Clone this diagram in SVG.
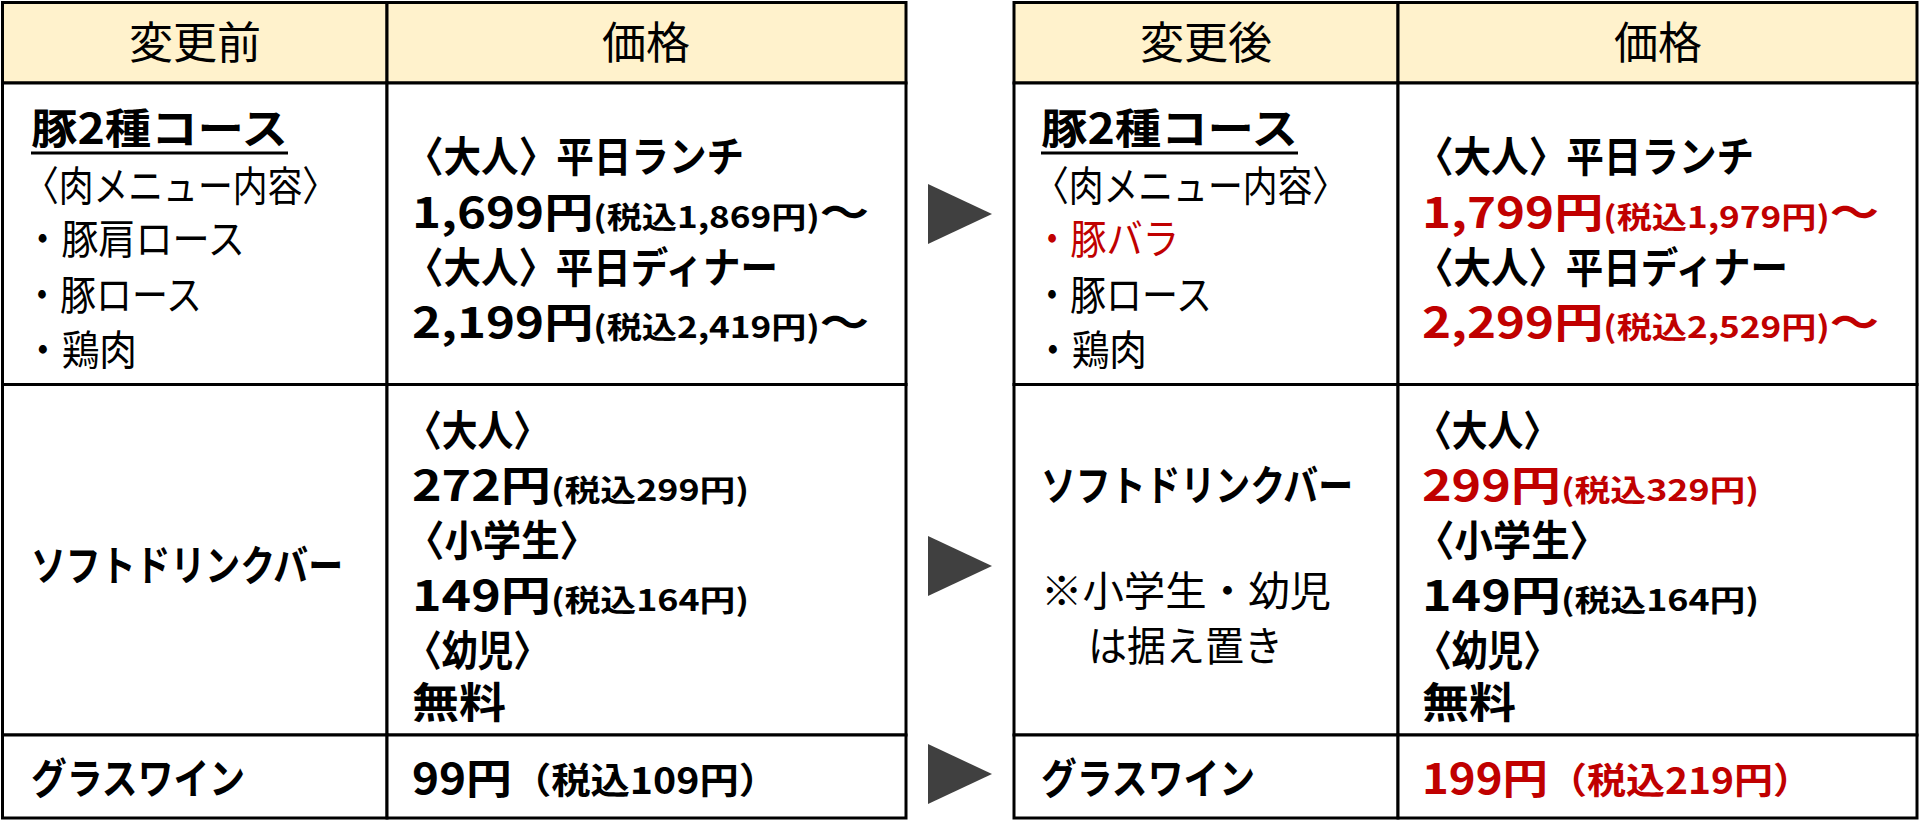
<svg xmlns="http://www.w3.org/2000/svg" width="1920" height="831" viewBox="0 0 1920 831">
<style>
text{font-family:"Noto Sans CJK JP","Liberation Sans",sans-serif;fill:#000}
.h{font-size:44px;text-anchor:middle}
.b{font-size:42px;font-weight:bold}
.n{font-size:41px}
.s{font-size:30px}
.r{fill:#C00000}
.cell{fill:#fff;stroke:#000;stroke-width:3}
.head{fill:#FFF2CC;stroke:#000;stroke-width:3}
.arr{fill:#404040}
</style>
<rect width="1920" height="831" fill="#fff"/>
<g id="left-table">
<rect class="head" x="2.5" y="2.5" width="384.5" height="80.5"/>
<rect class="head" x="387" y="2.5" width="519" height="80.5"/>
<rect class="cell" x="2.5" y="83" width="384.5" height="301.5"/>
<rect class="cell" x="387" y="83" width="519" height="301.5"/>
<rect class="cell" x="2.5" y="384.5" width="384.5" height="350.5"/>
<rect class="cell" x="387" y="384.5" width="519" height="350.5"/>
<rect class="cell" x="2.5" y="735" width="384.5" height="83"/>
<rect class="cell" x="387" y="735" width="519" height="83"/>
<text class="h" x="195" y="59">変更前</text>
<text class="h" x="646" y="59">価格</text>
<text class="b" x="31" y="144" font-size="46" textLength="257" lengthAdjust="spacingAndGlyphs">豚2種コース</text>
<line x1="31" y1="153" x2="288" y2="153" stroke="#000" stroke-width="3"/>
<text class="n" x="24" y="201" textLength="313" lengthAdjust="spacingAndGlyphs">〈肉メニュー内容〉</text>
<text class="n" x="24" y="254" textLength="221" lengthAdjust="spacingAndGlyphs">・豚肩ロース</text>
<text class="n" x="24" y="310" textLength="178" lengthAdjust="spacingAndGlyphs">・豚ロース</text>
<text class="n" x="24" y="365" textLength="113" lengthAdjust="spacingAndGlyphs">・鶏肉</text>
<text class="b" x="406" y="172" textLength="338" lengthAdjust="spacingAndGlyphs">〈大人〉平日ランチ</text>
<text class="b" x="412" y="228" textLength="457" lengthAdjust="spacingAndGlyphs">1,699円<tspan class="s">(税込1,869円)</tspan>～</text>
<text class="b" x="406" y="283" textLength="372" lengthAdjust="spacingAndGlyphs">〈大人〉平日ディナー</text>
<text class="b" x="412" y="338" textLength="457" lengthAdjust="spacingAndGlyphs">2,199円<tspan class="s">(税込2,419円)</tspan>～</text>
<text class="b" x="31" y="581" textLength="312" lengthAdjust="spacingAndGlyphs">ソフトドリンクバー</text>
<text class="b" x="406" y="446" textLength="143" lengthAdjust="spacingAndGlyphs">〈大人〉</text>
<text class="b" x="412" y="501" textLength="337" lengthAdjust="spacingAndGlyphs">272円<tspan class="s">(税込299円)</tspan></text>
<text class="b" x="406" y="556" textLength="192" lengthAdjust="spacingAndGlyphs">〈小学生〉</text>
<text class="b" x="412" y="611" textLength="337" lengthAdjust="spacingAndGlyphs">149円<tspan class="s">(税込164円)</tspan></text>
<text class="b" x="406" y="666" textLength="143" lengthAdjust="spacingAndGlyphs">〈幼児〉</text>
<text class="b" x="412" y="718" textLength="94" lengthAdjust="spacingAndGlyphs">無料</text>
<text class="b" x="31" y="794" textLength="214" lengthAdjust="spacingAndGlyphs">グラスワイン</text>
<text class="b" x="412" y="794" textLength="366" lengthAdjust="spacingAndGlyphs">99円<tspan font-size="36">（税込109円）</tspan></text>
</g>
<g id="right-table">
<rect class="head" x="1014" y="2.5" width="384" height="80.5"/>
<rect class="head" x="1398" y="2.5" width="519" height="80.5"/>
<rect class="cell" x="1014" y="83" width="384" height="301.5"/>
<rect class="cell" x="1398" y="83" width="519" height="301.5"/>
<rect class="cell" x="1014" y="384.5" width="384" height="350.5"/>
<rect class="cell" x="1398" y="384.5" width="519" height="350.5"/>
<rect class="cell" x="1014" y="735" width="384" height="83"/>
<rect class="cell" x="1398" y="735" width="519" height="83"/>
<text class="h" x="1206" y="59">変更後</text>
<text class="h" x="1658" y="59">価格</text>
<text class="b" x="1041" y="144" font-size="46" textLength="257" lengthAdjust="spacingAndGlyphs">豚2種コース</text>
<line x1="1041" y1="153" x2="1298" y2="153" stroke="#000" stroke-width="3"/>
<text class="n" x="1034" y="201" textLength="313" lengthAdjust="spacingAndGlyphs">〈肉メニュー内容〉</text>
<text class="n r" x="1034" y="254" textLength="145" lengthAdjust="spacingAndGlyphs">・豚バラ</text>
<text class="n" x="1034" y="310" textLength="178" lengthAdjust="spacingAndGlyphs">・豚ロース</text>
<text class="n" x="1034" y="365" textLength="113" lengthAdjust="spacingAndGlyphs">・鶏肉</text>
<text class="b" x="1416" y="172" textLength="338" lengthAdjust="spacingAndGlyphs">〈大人〉平日ランチ</text>
<text class="b r" x="1422" y="228" textLength="457" lengthAdjust="spacingAndGlyphs">1,799円<tspan class="s">(税込1,979円)</tspan>～</text>
<text class="b" x="1416" y="283" textLength="372" lengthAdjust="spacingAndGlyphs">〈大人〉平日ディナー</text>
<text class="b r" x="1422" y="338" textLength="457" lengthAdjust="spacingAndGlyphs">2,299円<tspan class="s">(税込2,529円)</tspan>～</text>
<text class="b" x="1041" y="501" textLength="312" lengthAdjust="spacingAndGlyphs">ソフトドリンクバー</text>
<text class="n" x="1041" y="606" textLength="290" lengthAdjust="spacingAndGlyphs">※小学生・幼児</text>
<text class="n" x="1088" y="661" textLength="195" lengthAdjust="spacingAndGlyphs">は据え置き</text>
<text class="b" x="1416" y="446" textLength="143" lengthAdjust="spacingAndGlyphs">〈大人〉</text>
<text class="b r" x="1422" y="501" textLength="337" lengthAdjust="spacingAndGlyphs">299円<tspan class="s">(税込329円)</tspan></text>
<text class="b" x="1416" y="556" textLength="192" lengthAdjust="spacingAndGlyphs">〈小学生〉</text>
<text class="b" x="1422" y="611" textLength="337" lengthAdjust="spacingAndGlyphs">149円<tspan class="s">(税込164円)</tspan></text>
<text class="b" x="1416" y="666" textLength="143" lengthAdjust="spacingAndGlyphs">〈幼児〉</text>
<text class="b" x="1422" y="718" textLength="94" lengthAdjust="spacingAndGlyphs">無料</text>
<text class="b" x="1041" y="794" textLength="214" lengthAdjust="spacingAndGlyphs">グラスワイン</text>
<text class="b r" x="1422" y="794" textLength="390" lengthAdjust="spacingAndGlyphs">199円<tspan font-size="36">（税込219円）</tspan></text>
</g>
<g id="connectors">
<polygon class="arr" points="928,184 992,214 928,244"/>
<polygon class="arr" points="928,536 992,566 928,596"/>
<polygon class="arr" points="928,744 992,774 928,804"/>
</g>
</svg>
